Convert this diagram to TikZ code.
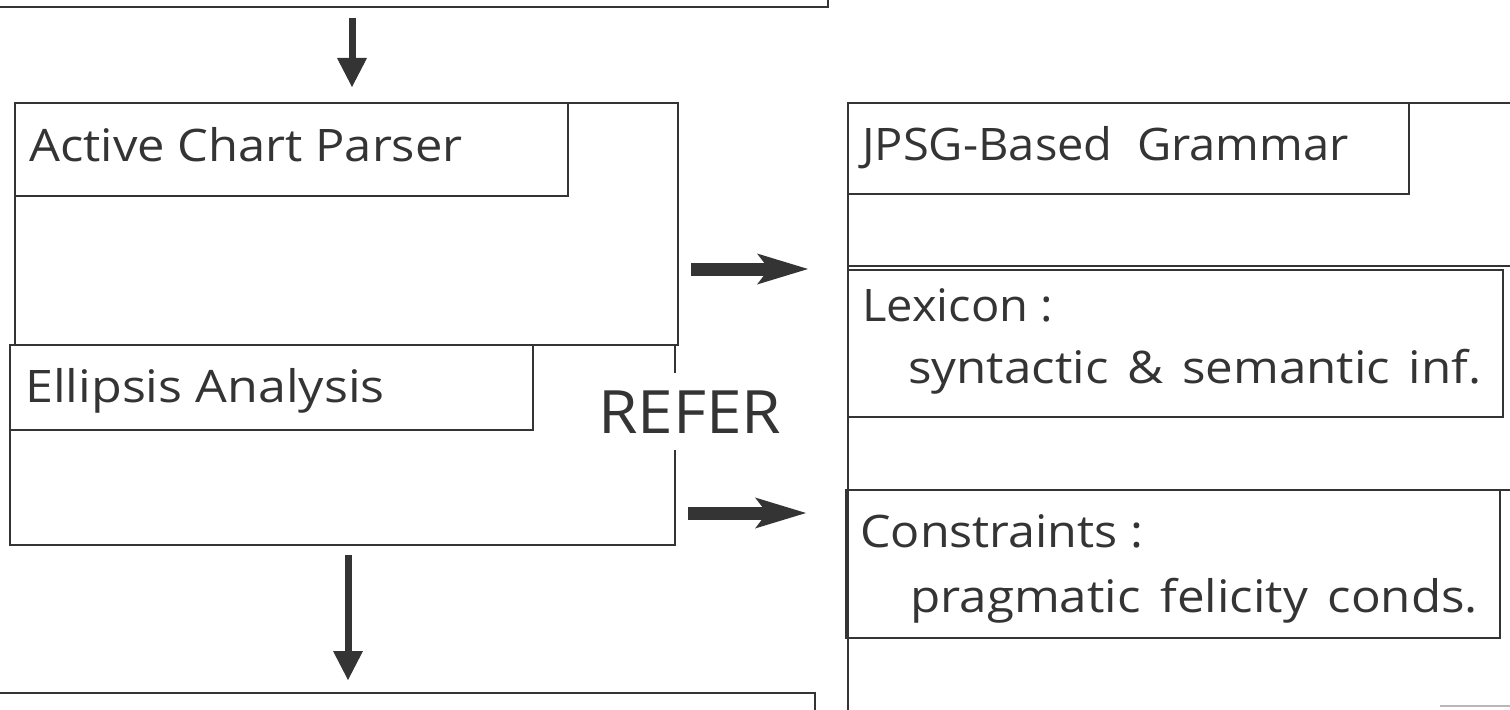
\documentclass[tikz,border=0pt]{standalone}
\usepackage{fontspec}
\setmainfont{Open Sans}
\usetikzlibrary{arrows.meta}
\definecolor{ink}{RGB}{52,52,52}
\begin{document}
\begin{tikzpicture}[x=1bp,y=-1bp,
  frame/.style={draw=ink,line width=2.6bp},
  inner/.style={draw=ink,line width=2bp},
  lbl/.style={anchor=base west,inner sep=0pt,text=ink,xscale=1.08,font=\fontsize{45}{54}\selectfont},
  big/.style={anchor=base west,inner sep=0pt,text=ink,xscale=1.07,font=\fontsize{60}{72}\selectfont},
  varrow/.style={draw=ink,line width=7bp,-{Triangle[length=29bp,width=30bp,line width=0pt]}},
  harrow/.style={draw=ink,line width=13bp,-{Stealth[length=51bp,width=31bp,inset=12bp,line width=0pt]}}]
\useasboundingbox (0,0) rectangle (1510,710);
% top box (cut off)
\draw[frame] (0,7) -- (828,7) -- (828,-5);
% left column
\draw[frame] (15,103) rectangle (678,345);
\draw[inner] (15,103) rectangle (568,196);
\draw[frame] (675,450) |- (10,545) -- (10,345) -- (675,345) -- (675,373);
\draw[inner] (10,345) rectangle (533,430);
% bottom box (cut off)
\draw[frame] (0,693) -- (815,693) -- (815,715);
% right column
\draw[frame] (1512,103) -- (848,103) -- (848,712);
\draw[inner] (848,103) rectangle (1409,194);
\draw[frame] (848,266) -- (1512,266);
\draw[inner] (848,270) rectangle (1503,417);
\draw[frame] (846,490) -- (1512,490);
\draw[inner] (846,490) rectangle (1500,638);
\draw[ink!35,line width=1.5bp] (1440,706) -- (1510,706);
% texts
\node[lbl,xscale=1.09/1.08] (acp) at (29,161) {Active Chart Parser};
\node[lbl,xscale=1.12/1.08] (ell) at (25,402) {Ellipsis Analysis};
\node[big] (refer) at (598,433) {REFER};
\node[lbl,xscale=1.05/1.08] (jpsg) at (862,160) {JPSG-Based\ \ Grammar};
\node[lbl,xscale=1.05/1.08] (lex) at (862,321) {Lexicon :};
\node[lbl,xscale=1.1/1.08] (syn) at (908,383) {syntactic\hspace{0.38em}\&\hspace{0.38em}semantic\hspace{0.38em}inf.};
\node[lbl] (con) at (860,547) {Constraints :};
\node[lbl,xscale=1.1/1.08] (prag) at (910,612) {pragmatic\hspace{0.4em}felicity\hspace{0.4em}conds.};
% connectors
\coordinate (v1s) at (352,18);
\coordinate (v1e) at (352,87);
\coordinate (v2s) at (348,555);
\coordinate (v2e) at (348,680);
\coordinate (h1s) at (691,269);
\coordinate (h1e) at (808,269);
\coordinate (h2s) at (688,513);
\coordinate (h2e) at (806,513);
\draw[varrow] (v1s) -- (v1e);
\draw[varrow] (v2s) -- (v2e);
\draw[harrow] (h1s) -- (h1e);
\draw[harrow] (h2s) -- (h2e);
\end{tikzpicture}
\end{document}
